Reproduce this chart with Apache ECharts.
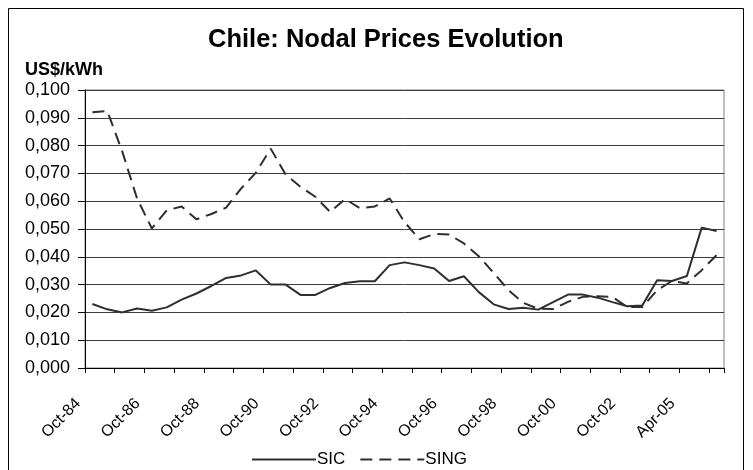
<!DOCTYPE html>
<html>
<head>
<meta charset="utf-8">
<script src="https://cdn.jsdelivr.net/npm/echarts@6/dist/echarts.min.js"></script>
<style>
  html, body { margin: 0; padding: 0; background: #fff; }
  #chart { width: 753px; height: 470px; }
</style>
</head>
<body>
<div id="chart"></div>
<script>
// half-yearly tariff periods
const periods = [
  'Oct-84', 'Apr-85', 'Oct-85', 'Apr-86', 'Oct-86', 'Apr-87', 'Oct-87', 'Apr-88', 'Oct-88', 'Apr-89',
  'Oct-89', 'Apr-90', 'Oct-90', 'Apr-91', 'Oct-91', 'Apr-92', 'Oct-92', 'Apr-93', 'Oct-93', 'Apr-94',
  'Oct-94', 'Apr-95', 'Oct-95', 'Apr-96', 'Oct-96', 'Apr-97', 'Oct-97', 'Apr-98', 'Oct-98', 'Apr-99',
  'Oct-99', 'Apr-00', 'Oct-00', 'Apr-01', 'Oct-01', 'Apr-02', 'Oct-02', 'Apr-03', 'Oct-03', 'Oct-04',
  'Apr-05', 'Oct-05', 'Apr-06'
]

const sic = [
  0.0230, 0.0211, 0.0200, 0.0214, 0.0206, 0.0218, 0.0246, 0.0268, 0.0295, 0.0324,
  0.0333, 0.0351, 0.0300, 0.0300, 0.0263, 0.0263, 0.0288, 0.0306, 0.0312, 0.0312,
  0.0370, 0.0380, 0.0370, 0.0358, 0.0313, 0.0330, 0.0273, 0.0229, 0.0212, 0.0217,
  0.0210, 0.0237, 0.0264, 0.0264, 0.0253, 0.0237, 0.0222, 0.0225, 0.0316, 0.0313,
  0.0331, 0.0505, 0.0493
]

const sing = [
  0.0920, 0.0924, 0.0780, 0.0610, 0.0502, 0.0567, 0.0581, 0.0535, 0.0554, 0.0577,
  0.0645, 0.0703, 0.0789, 0.0696, 0.0652, 0.0616, 0.0561, 0.0608, 0.0575, 0.0581,
  0.0610, 0.0525, 0.0463, 0.0482, 0.0480, 0.0448, 0.0402, 0.0342, 0.0280, 0.0234,
  0.0213, 0.0212, 0.0238, 0.0256, 0.0258, 0.0255, 0.0219, 0.0219, 0.0280, 0.0313,
  0.0304, 0.0352, 0.0406
]

const yMin = 0
const yMax = 0.1
const yStep = 0.01

const font = 'Liberation Sans, Arial, sans-serif'
const lineColor = '#2e2e2e'

const chart = echarts.init(document.getElementById('chart'))
chart.setOption({
  animation: false,
  textStyle: { fontFamily: font },
  title: [
    {
      text: 'Chile: Nodal Prices Evolution',
      left: 203,
      top: 22,
      textStyle: { fontFamily: font, fontSize: 25.5, fontWeight: 'bold', color: '#000' }
    },
    {
      text: 'US$/kWh',
      left: 20,
      top: 56,
      textStyle: { fontFamily: font, fontSize: 18, fontWeight: 'bold', color: '#000' }
    }
  ],
  // outer frame of the chart area
  graphic: [{
    type: 'rect',
    silent: true,
    shape: { x: 8.5, y: 8.5, width: 735, height: 470 },
    style: { fill: 'none', stroke: '#000', lineWidth: 1 }
  }],
  legend: {
    left: 246,
    top: 446,
    itemWidth: 64,
    itemHeight: 14,
    itemGap: 14,
    itemStyle: { opacity: 0, borderWidth: 0 },
    textStyle: { fontFamily: font, fontSize: 17, color: '#000', padding: [0, 0, 0, -4] },
    data: ['SIC', 'SING']
  },
  grid: {
    left: 85,
    right: 29,
    top: 90,
    bottom: 102,
    show: true,
    borderColor: '#808080',
    borderWidth: 1
  },
  xAxis: {
    type: 'category',
    data: periods,
    boundaryGap: true,
    axisLine: { lineStyle: { color: '#000', width: 1 } },
    axisTick: { show: true, interval: 1, length: 5, lineStyle: { color: '#000' } },
    axisLabel: {
      interval: 3,
      rotate: 45,
      margin: 19,
      padding: [0, 20, 0, 0],
      fontFamily: font,
      fontSize: 16,
      color: '#000'
    },
    splitLine: { show: false }
  },
  yAxis: {
    type: 'value',
    min: yMin,
    max: yMax,
    interval: yStep,
    axisLine: { show: true, lineStyle: { color: '#000', width: 1 } },
    axisTick: { show: true, length: 7, lineStyle: { color: '#000' } },
    axisLabel: {
      margin: 15,
      fontFamily: font,
      fontSize: 18,
      color: '#000',
      formatter: v => v.toFixed(3).replace('.', ',')
    },
    splitLine: { lineStyle: { color: '#3c3c3c', width: 1 } }
  },
  series: [
    {
      name: 'SIC',
      type: 'line',
      data: sic,
      symbol: 'none',
      lineStyle: { color: lineColor, width: 2, type: 'solid' },
      itemStyle: { color: lineColor }
    },
    {
      name: 'SING',
      type: 'line',
      data: sing,
      symbol: 'none',
      lineStyle: { color: lineColor, width: 2, type: [12, 7] },
      itemStyle: { color: lineColor }
    }
  ]
})
</script>
</body>
</html>
